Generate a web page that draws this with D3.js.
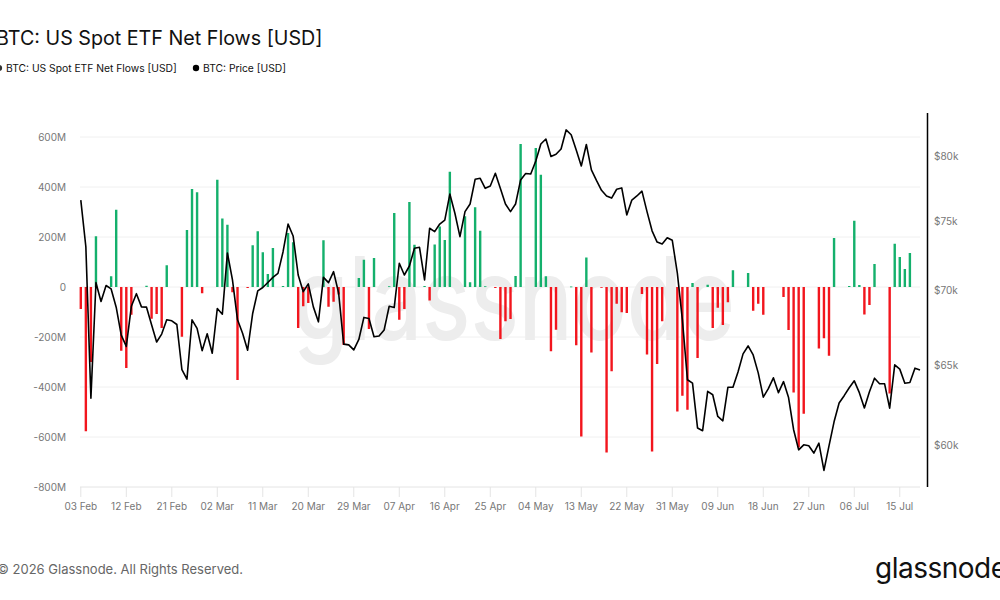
<!DOCTYPE html>
<html>
<head>
<meta charset="utf-8">
<script src="https://cdn.jsdelivr.net/npm/d3@7"></script>
<style>
  body { margin: 0; background: #fff; }
  svg { display: block; font-family: Inter, "Noto Sans", sans-serif; }
</style>
</head>
<body>
<svg id="chart" width="1000" height="600"></svg>
<script>
// daily values starting 03 Feb, one entry per calendar day (null = no flow that day)
var startDate = new Date(2026, 1, 3);

// ETF net flows, millions USD
var flows = [
  -88, -577, -300, 203, null, null, 43, 309, -255, -324,
  -111, null, null, 5, -127, -108, -164, 87, null, null,
  -199, 228, 392, 379, -25, null, null, 429, 274, 249,
  -21, -372, null, -4, 167, 223, 139, 52, 156, null,
  4, 216, 179, -164, -77, -64, null, null, 187, -79,
  -59, -30, -232, null, null, 36, 109, -168, 116, null,
  null, 3, 296, -131, -88, 340, 169, null, 4, -54,
  170, 242, 188, 461, null, null, 283, 19, 319, 225,
  3, null, -4, -208, -137, -128, 44, 572, null, null,
  556, 449, 43, -257, -171, null, null, 2, -233, -598,
  118, -262, null, -3, -662, -337, -67, -101, -104, null,
  null, -28, -270, -658, -308, -137, null, null, -498, -435,
  -491, 16, -284, null, 9, -164, -83, -152, -61, 67,
  null, null, 56, -95, -67, -111, null, null, null, -40,
  -172, -422, -642, -507, null, null, -246, -205, -275, 196,
  null, null, 4, 265, 8, -110, -72, 92, null, null,
  -426, 173, 120, 72, 136, null, null
];

// BTC price, thousands USD
var price = [
  76.62, 73.14, 62.90, 70.57, 69.26, 70.37, 70.13, 68.87, 66.98, 66.23,
  68.93, 69.80, 68.89, 68.87, 67.67, 66.52, 67.05, 68.01, 67.94, 67.69,
  64.72, 64.11, 68.01, 67.43, 65.95, 67.07, 65.78, 68.78, 68.39, 72.69,
  70.76, 68.01, 67.10, 65.98, 68.44, 69.99, 70.23, 70.58, 70.94, 71.23,
  72.76, 74.81, 73.93, 71.11, 69.94, 70.48, 68.89, 67.87, 70.94, 70.57,
  71.35, 69.85, 66.38, 66.33, 66.00, 66.69, 68.17, 68.10, 66.87, 66.92,
  67.32, 68.93, 68.85, 71.95, 71.11, 71.75, 73.03, 73.10, 70.76, 74.50,
  74.25, 74.81, 75.11, 77.08, 75.62, 73.88, 75.74, 76.32, 78.22, 78.30,
  77.52, 77.70, 78.69, 77.50, 76.32, 75.74, 76.32, 78.17, 78.67, 78.63,
  79.66, 81.02, 81.42, 80.02, 80.19, 80.62, 82.16, 81.77, 80.53, 79.26,
  80.98, 78.95, 78.13, 77.37, 76.93, 76.77, 77.45, 77.55, 75.49, 76.62,
  76.93, 77.30, 75.74, 74.31, 73.48, 73.34, 73.80, 73.61, 71.24, 68.00,
  64.07, 63.85, 61.06, 60.90, 63.33, 63.12, 61.77, 61.50, 63.59, 63.59,
  64.57, 65.74, 66.26, 65.67, 64.51, 62.97, 63.50, 64.19, 63.25, 63.95,
  62.94, 60.96, 59.75, 60.05, 59.99, 59.56, 60.15, 58.54, 59.99, 61.44,
  62.60, 63.06, 63.56, 64.00, 63.25, 62.29, 63.31, 64.17, 63.81, 63.81,
  62.28, 65.03, 64.75, 63.85, 63.89, 64.81, 64.70
];

var flowTicks = [-800, -600, -400, -200, 0, 200, 400, 600];
var priceTicks = [60000, 65000, 70000, 75000, 80000];
var dateTicks = ["03 Feb", "12 Feb", "21 Feb", "02 Mar", "11 Mar", "20 Mar", "29 Mar",
  "07 Apr", "16 Apr", "25 Apr", "04 May", "13 May", "22 May", "31 May",
  "09 Jun", "18 Jun", "27 Jun", "06 Jul", "15 Jul"];

var green = "#14b06c", red = "#f2151d", axisGray = "#777";

var days = price.map(function(p, i) { return d3.timeDay.offset(startDate, i); });
var endDate = days[days.length - 1];

var x = d3.scaleTime()
  .domain([startDate, endDate])
  .range([80.8, 920]);

var y = d3.scaleLinear()
  .domain([-800, 700])
  .range([487, 112]);

var yPrice = d3.scaleLog()
  .domain([57580, 83640])
  .range([487, 112]);

var parseTick = d3.timeParse("%d %b %Y");

const svg = d3.select("#chart");

// grid
svg.append("g")
  .selectAll("line")
  .data(flowTicks)
  .join("line")
    .attr("x1", 80)
    .attr("x2", 920)
    .attr("y1", d => y(d))
    .attr("y2", d => y(d))
    .attr("stroke", d => d == -800 ? "#e4e4e4" : "#f0f0f0")
    .attr("stroke-width", 1);

// watermark
svg.append("text")
  .attr("x", 293)
  .attr("y", 340)
  .attr("textLength", 442)
  .attr("lengthAdjust", "spacingAndGlyphs")
  .style("font-size", "116px")
  .style("font-weight", "500")
  .style("fill", "#ededed")
  .text("glassnode");

// bars
var barData = flows.map((v, i) => ({date: days[i], value: v})).filter(d => d.value !== null);

svg.append("g")
  .selectAll("rect")
  .data(barData)
  .join("rect")
    .attr("x", d => x(d.date) - 1.2)
    .attr("width", 2.4)
    .attr("y", d => y(Math.max(0, d.value)))
    .attr("height", d => Math.max(0.8, Math.abs(y(d.value) - y(0))))
    .attr("fill", d => d.value >= 0 ? green : red);

// price line
var line = d3.line()
  .x((d, i) => x(days[i]))
  .y(d => yPrice(d * 1000));

svg.append("path")
  .datum(price)
  .attr("d", line)
  .attr("fill", "none")
  .attr("stroke", "#000")
  .attr("stroke-width", 1.6)
  .attr("stroke-linejoin", "round");

// left axis labels
svg.append("g")
  .selectAll("text")
  .data(flowTicks)
  .join("text")
    .attr("x", 66)
    .attr("y", d => y(d) + 3.5)
    .attr("text-anchor", "end")
    .style("font-size", "10px")
    .style("fill", axisGray)
    .text(d => d == 0 ? "0" : d + "M");

// x axis ticks and labels
var xTickDates = dateTicks.map(s => parseTick(s + " 2026"));

svg.append("g")
  .selectAll("line")
  .data(xTickDates)
  .join("line")
    .attr("x1", d => x(d))
    .attr("x2", d => x(d))
    .attr("y1", 487)
    .attr("y2", 497)
    .attr("stroke", "#e4e4e4");

svg.append("g")
  .selectAll("text")
  .data(dateTicks)
  .join("text")
    .attr("x", (d, i) => x(xTickDates[i]))
    .attr("y", 510)
    .attr("text-anchor", "middle")
    .style("font-size", "10px")
    .style("fill", axisGray)
    .text(d => d);

// right axis
svg.append("line")
  .attr("x1", 927.5)
  .attr("x2", 927.5)
  .attr("y1", 113)
  .attr("y2", 487)
  .attr("stroke", "#000")
  .attr("stroke-width", 1.5);

svg.append("g")
  .selectAll("text")
  .data(priceTicks)
  .join("text")
    .attr("x", 934)
    .attr("y", d => yPrice(d) + 3.5)
    .style("font-size", "10px")
    .style("fill", axisGray)
    .text(d => "$" + d / 1000 + "k");

// title and legend
svg.append("text")
  .attr("x", -4)
  .attr("y", 45)
  .style("font-size", "19.7px")
  .style("fill", "#111")
  .text("BTC: US Spot ETF Net Flows [USD]");

svg.append("circle").attr("cx", -1).attr("cy", 68).attr("r", 3.2).attr("fill", "#333");
svg.append("text")
  .attr("x", 6)
  .attr("y", 71.5)
  .style("font-size", "10.3px")
  .style("fill", "#111")
  .text("BTC: US Spot ETF Net Flows [USD]");

svg.append("circle").attr("cx", 196).attr("cy", 68).attr("r", 3.2).attr("fill", "#000");
svg.append("text")
  .attr("x", 203)
  .attr("y", 71.5)
  .style("font-size", "10.3px")
  .style("fill", "#111")
  .text("BTC: Price [USD]");

// footer
svg.append("text")
  .attr("x", -3)
  .attr("y", 574)
  .style("font-size", "13px")
  .style("fill", "#666")
  .text("© 2026 Glassnode. All Rights Reserved.");

svg.append("text")
  .attr("x", 875)
  .attr("y", 578)
  .style("font-size", "28px")
  .style("font-weight", "400")
  .style("letter-spacing", "-0.5px")
  .style("fill", "#111")
  .text("glassnode");
</script>
</body>
</html>
